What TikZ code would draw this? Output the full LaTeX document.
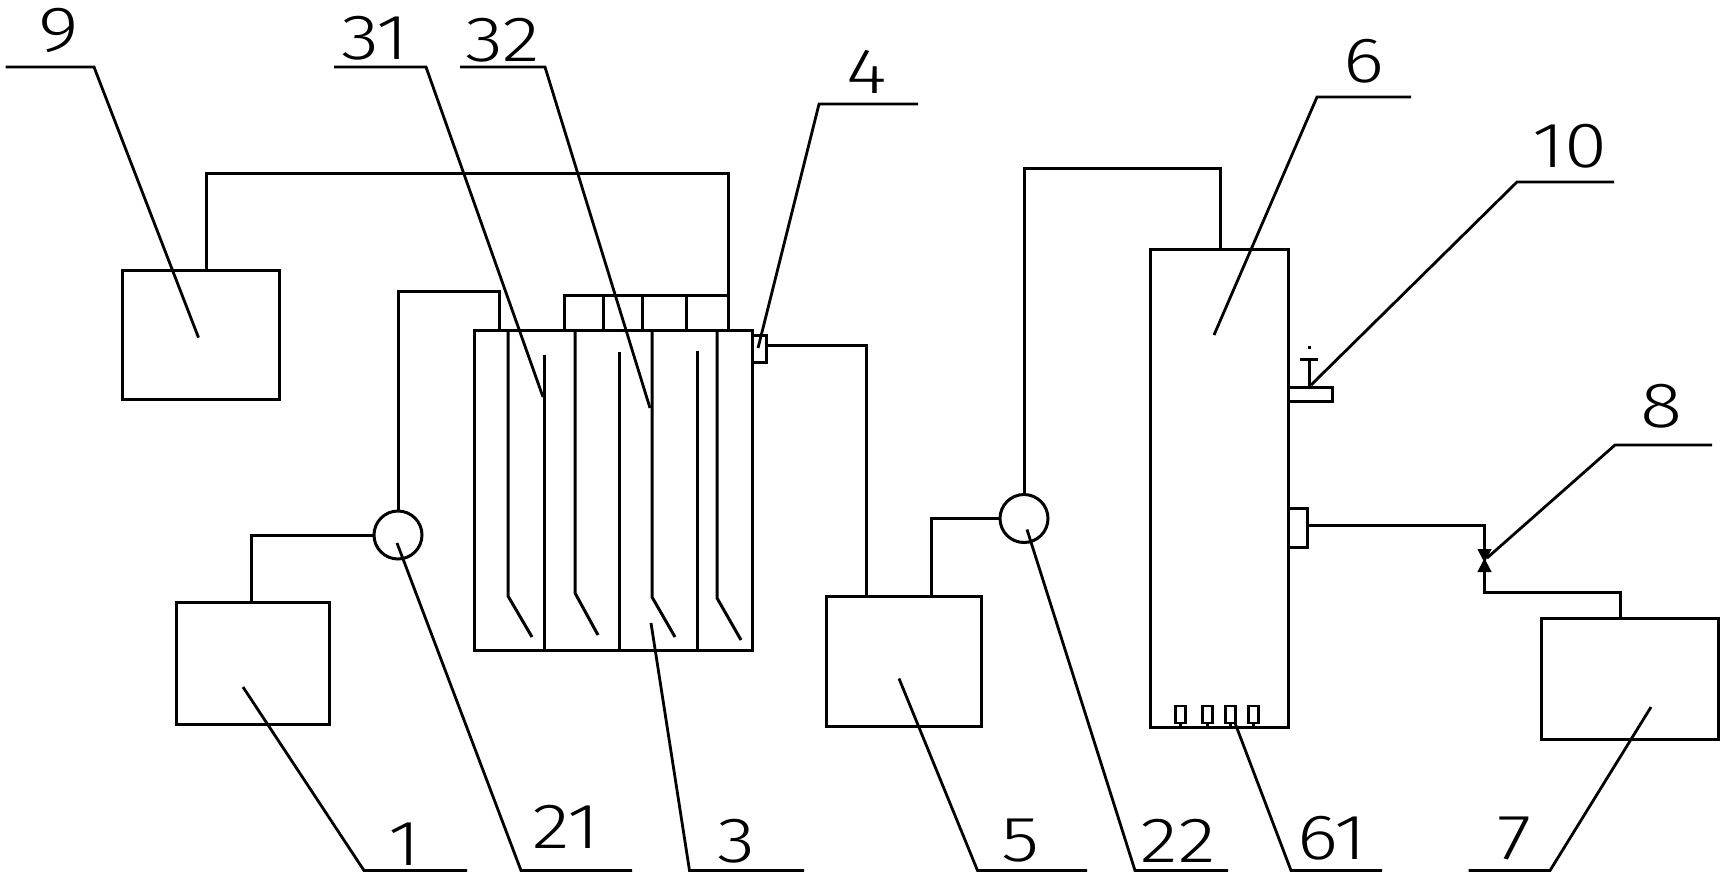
\documentclass[tikz,border=0pt]{standalone}
\usepackage{fontspec}
\setmainfont{Liberation Sans}
\newfontfamily\labfont[FakeStretch=1.22]{Fira Sans Light}
\newcommand{\pbox}[5]{\node[boxst,minimum width={(#4-#2)*1pt},minimum height={(#5-#3)*1pt}] (#1) at ({(#2+#4)/2},{(#3+#5)/2}) {};}
\tikzset{
  boxst/.style={draw=black,line width=3pt,inner sep=0pt,outer sep=0pt,rectangle},
  nozzle/.style={boxst,line width=2.4pt},
  pumpst/.style={draw=black,line width=3pt,inner sep=0pt,outer sep=0pt,circle,minimum size=48pt},
  pipe/.style={draw=black,line width=3pt,line join=miter},
  leader/.style={draw=black,line width=2.8pt,line join=miter},
  lab/.style={font=\labfont\fontsize{64}{64}\selectfont,text=black,inner sep=0pt},
  valvest/.style={draw=black,fill=black,line width=2pt}
}
\begin{document}
\begin{tikzpicture}[x=1pt,y=-1pt]
\useasboundingbox (0,0) rectangle (1730,884);
\fill[white] (0,0) rectangle (1730,884);
% boxes
\pbox{b9}{122.5}{270}{279}{399.5}
\pbox{b1}{176.5}{602}{329}{724}
\pbox{b3}{474}{330}{752}{650}
\pbox{b4}{752}{335}{766}{362}
\pbox{b5}{826}{596}{981}{726}
\pbox{b6}{1150}{249.5}{1288}{727}
\pbox{b7}{1541}{618}{1718}{739}
\pbox{b10}{1288}{387}{1332}{401}
\pbox{bo}{1288}{508}{1307}{547}
% nozzles
\node[nozzle,minimum width=10pt,minimum height=17pt] (n1) at (1180.5,714.5) {};
\node[nozzle,minimum width=10pt,minimum height=17pt] (n2) at (1207.5,714.5) {};
\node[nozzle,minimum width=10pt,minimum height=17pt] (n3) at (1230.5,714.5) {};
\node[nozzle,minimum width=10pt,minimum height=17pt] (n4) at (1253.5,714.5) {};
\draw[pipe] (n1.south) -- (n1.south |- b6.south);
\draw[pipe] (n2.south) -- (n2.south |- b6.south);
\draw[pipe] (n3.south) -- (n3.south |- b6.south);
\draw[pipe] (n4.south) -- (n4.south |- b6.south);
% pumps
\node[pumpst] (p21) at (398,535) {};
\node[pumpst] (p22) at (1024,518.5) {};
% pipes
\coordinate (c9a) at (206,173);
\coordinate (c9b) at (728,173);
\draw[pipe] (c9a |- b9.north) -- (c9a) -- (c9b) -- (c9b |- b3.north);
\coordinate (m1) at (564,295);
\coordinate (m2) at (603,295);
\coordinate (m3) at (642,295);
\coordinate (m4) at (686,295);
\coordinate (m5) at (728,295);
\draw[pipe] (m1 |- b3.north) -- (m1) -- (m5);
\draw[pipe] (m2) -- (m2 |- b3.north);
\draw[pipe] (m3) -- (m3 |- b3.north);
\draw[pipe] (m4) -- (m4 |- b3.north);
\coordinate (c1) at (251.5,535);
\draw[pipe] (c1 |- b1.north) -- (c1) -- (p21.west);
\coordinate (c21a) at (398,291);
\coordinate (c21b) at (499,291);
\draw[pipe] (p21.north) -- (c21a) -- (c21b) -- (c21b |- b3.north);
\coordinate (c4) at (866,345);
\draw[pipe] (c4 -| b4.east) -- (c4) -- (c4 |- b5.north);
\coordinate (c5) at (931,518.5);
\draw[pipe] (c5 |- b5.north) -- (c5) -- (p22.west);
\coordinate (c22a) at (1024,168);
\coordinate (c22b) at (1220,168);
\draw[pipe] (p22.north) -- (c22a) -- (c22b) -- (c22b |- b6.north);
% baffles
\coordinate (h1) at (508,596); \coordinate (h1e) at (532,637);
\coordinate (h2) at (575,593); \coordinate (h2e) at (598,635);
\coordinate (h3) at (652,597); \coordinate (h3e) at (675,637);
\coordinate (h4) at (717,598); \coordinate (h4e) at (741,640);
\draw[pipe] (h1 |- b3.north) -- (h1) -- (h1e);
\draw[pipe] (h2 |- b3.north) -- (h2) -- (h2e);
\draw[pipe] (h3 |- b3.north) -- (h3) -- (h3e);
\draw[pipe] (h4 |- b3.north) -- (h4) -- (h4e);
\coordinate (u1) at (544,355);
\coordinate (u2) at (619,352);
\coordinate (u3) at (697,351);
\draw[pipe] (u1) -- (u1 |- b3.south);
\draw[pipe] (u2) -- (u2 |- b3.south);
\draw[pipe] (u3) -- (u3 |- b3.south);
% item 10
\coordinate (t1) at (1309,359);
\draw[pipe] (t1) -- (t1 |- b10.north);
\coordinate (t2) at (1300,359);
\coordinate (t3) at (1318,359);
\draw[pipe] (t2) -- (t3);
\fill[black] (1307.5,345.5) rectangle (1310.5,348.5);
% outlet pipe and valve 8
\coordinate (v1) at (1484,525);
\coordinate (vt) at (1484,550);
\coordinate (vb) at (1484,570);
\coordinate (v2) at (1484,592);
\coordinate (v3) at (1620,592);
\draw[pipe] (bo.east |- v1) -- (v1) -- (vt);
\draw[pipe] (vb) -- (v2) -- (v3) -- (v3 |- b7.north);
\draw[valvest] (1479,550) -- (1490,550) -- (1479,571) -- (1490,571) -- cycle;
% leaders
\coordinate (l9t) at (198.5,337.6); \coordinate (l9k) at (94,67); \coordinate (l9e) at (5.5,67);
\draw[leader] (l9t) -- (l9k) -- (l9e);
\coordinate (l31t) at (543,397); \coordinate (l31k) at (426,67); \coordinate (l31e) at (334,67);
\draw[leader] (l31t) -- (l31k) -- (l31e);
\coordinate (l32t) at (650,408); \coordinate (l32k) at (545,67); \coordinate (l32e) at (460,67);
\draw[leader] (l32t) -- (l32k) -- (l32e);
\coordinate (l4t) at (758,348); \coordinate (l4k) at (819,104); \coordinate (l4e) at (918,104);
\draw[leader] (l4t) -- (l4k) -- (l4e);
\coordinate (l6t) at (1214,335); \coordinate (l6k) at (1317,97); \coordinate (l6e) at (1411,97);
\draw[leader] (l6t) -- (l6k) -- (l6e);
\coordinate (l10t) at (1311,385); \coordinate (l10k) at (1517,182); \coordinate (l10e) at (1614,182);
\draw[leader] (l10t) -- (l10k) -- (l10e);
\coordinate (l8t) at (1487,558); \coordinate (l8k) at (1615,445); \coordinate (l8e) at (1712,445);
\draw[leader] (l8t) -- (l8k) -- (l8e);
\coordinate (l1t) at (243,687); \coordinate (l1k) at (364,870.5); \coordinate (l1e) at (467,870.5);
\draw[leader] (l1t) -- (l1k) -- (l1e);
\coordinate (l21t) at (397,543); \coordinate (l21k) at (521,870.5); \coordinate (l21e) at (632,870.5);
\draw[leader] (l21t) -- (l21k) -- (l21e);
\coordinate (l3t) at (651,623); \coordinate (l3k) at (689.5,870.5); \coordinate (l3e) at (804,870.5);
\draw[leader] (l3t) -- (l3k) -- (l3e);
\coordinate (l5t) at (899,678.5); \coordinate (l5k) at (977.5,870.5); \coordinate (l5e) at (1087,870.5);
\draw[leader] (l5t) -- (l5k) -- (l5e);
\coordinate (l22t) at (1027,529.5); \coordinate (l22k) at (1135,870.5); \coordinate (l22e) at (1228,870.5);
\draw[leader] (l22t) -- (l22k) -- (l22e);
\coordinate (l61t) at (1235,723); \coordinate (l61k) at (1291,870.5); \coordinate (l61e) at (1382,870.5);
\draw[leader] (l61t) -- (l61k) -- (l61e);
\coordinate (l7t) at (1651,707); \coordinate (l7k) at (1550,870.5); \coordinate (l7e) at (1468.5,870.5);
\draw[leader] (l7t) -- (l7k) -- (l7e);
% labels
\node[lab] (t9) at (58.5,30) {9};
\node[lab] (t31) at (375,38.5) {31};
\node[lab] (t32) at (503,40) {32};
\node[lab] (t4) at (867,72) {4};
\node[lab] (t6) at (1364,61) {6};
\node[lab] (t10) at (1570,146) {10};
\node[lab] (t8) at (1661,406) {8};
\node[lab] (t1n) at (405,844) {1};
\node[lab] (t21) at (566,827) {21};
\node[lab] (t3) at (736,841) {3};
\node[lab] (t5) at (1020.5,841) {5};
\node[lab] (t22) at (1178,841) {22};
\node[lab] (t61) at (1332,838.5) {61};
\node[lab] (t7) at (1515,838.5) {7};
\end{tikzpicture}
\end{document}
